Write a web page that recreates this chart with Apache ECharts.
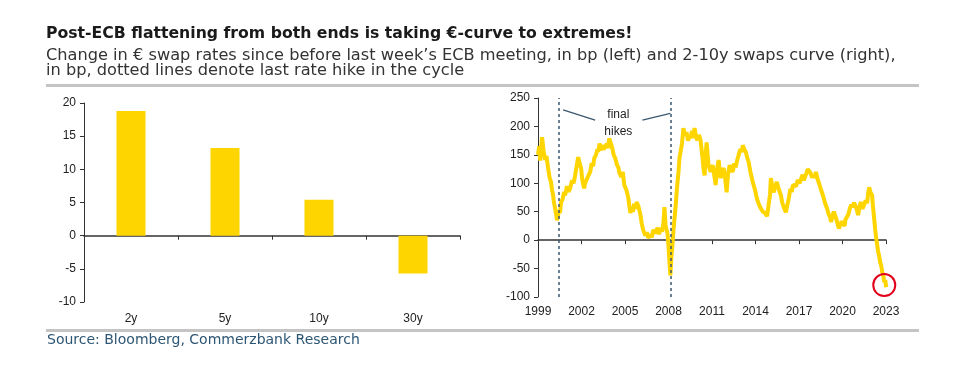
<!DOCTYPE html>
<html>
<head>
<meta charset="utf-8">
<script src="https://cdn.jsdelivr.net/npm/echarts@6/dist/echarts.min.js"></script>
<style>
  html, body { margin: 0; padding: 0; background: #fff; }
  #chart { width: 954px; height: 377px; }
</style>
</head>
<body>
<div id="chart"></div>
<script>
// left panel: change in EUR swap rates since before the ECB meeting, bp
const tenors = ['2y', '5y', '10y', '30y'];
const swapChange = [18.8, 13.2, 5.4, -5.7];

// right panel: 2-10y swaps curve, bp
const curveYears = [
  1999.00, 1999.08, 1999.15, 1999.28, 1999.38, 1999.48, 1999.58, 1999.69, 1999.80, 1999.90,
  1999.97, 2000.04, 2000.10, 2000.18, 2000.25, 2000.31, 2000.38, 2000.45, 2000.52, 2000.59,
  2000.70, 2000.80, 2000.87, 2001.00, 2001.10, 2001.21, 2001.35, 2001.45, 2001.56, 2001.65,
  2001.77, 2001.85, 2001.91, 2001.98, 2002.04, 2002.10, 2002.18, 2002.25, 2002.32, 2002.45,
  2002.60, 2002.70, 2002.80, 2002.88, 2003.00, 2003.10, 2003.15, 2003.25, 2003.35, 2003.43,
  2003.52, 2003.64, 2003.75, 2003.85, 2003.91, 2004.00, 2004.12, 2004.22, 2004.33, 2004.45,
  2004.54, 2004.62, 2004.74, 2004.85, 2004.95, 2005.10, 2005.23, 2005.30, 2005.37, 2005.45,
  2005.55, 2005.62, 2005.71, 2005.80, 2005.92, 2006.06, 2006.15, 2006.25, 2006.40, 2006.50,
  2006.60, 2006.75, 2006.85, 2006.95, 2007.10, 2007.25, 2007.35, 2007.44, 2007.55, 2007.65,
  2007.72, 2007.80, 2007.93, 2008.00, 2008.07, 2008.13, 2008.20, 2008.27, 2008.35, 2008.48,
  2008.58, 2008.69, 2008.76, 2008.83, 2008.93, 2009.03, 2009.12, 2009.24, 2009.35, 2009.45,
  2009.52, 2009.62, 2009.70, 2009.80, 2009.90, 2010.00, 2010.10, 2010.21, 2010.28, 2010.35,
  2010.42, 2010.49, 2010.56, 2010.63, 2010.70, 2010.76, 2010.90, 2011.04, 2011.15, 2011.25,
  2011.35, 2011.46, 2011.53, 2011.60, 2011.70, 2011.80, 2011.90, 2012.01, 2012.10, 2012.22,
  2012.32, 2012.43, 2012.53, 2012.63, 2012.73, 2012.84, 2012.95, 2013.05, 2013.12, 2013.22,
  2013.33, 2013.43, 2013.53, 2013.65, 2013.81, 2013.95, 2014.09, 2014.20, 2014.36, 2014.50,
  2014.65, 2014.80, 2014.92, 2015.00, 2015.06, 2015.15, 2015.26, 2015.35, 2015.47, 2015.60,
  2015.75, 2015.85, 2015.95, 2016.09, 2016.20, 2016.30, 2016.40, 2016.50, 2016.58, 2016.70,
  2016.80, 2016.92, 2017.03, 2017.13, 2017.25, 2017.33, 2017.41, 2017.52, 2017.60, 2017.69,
  2017.80, 2017.90, 2017.96, 2018.07, 2018.17, 2018.27, 2018.38, 2018.50, 2018.65, 2018.80,
  2018.93, 2019.05, 2019.15, 2019.21, 2019.30, 2019.40, 2019.48, 2019.60, 2019.70, 2019.76,
  2019.85, 2019.95, 2020.04, 2020.15, 2020.20, 2020.31, 2020.40, 2020.50, 2020.59, 2020.70,
  2020.80, 2020.87, 2020.97, 2021.08, 2021.18, 2021.28, 2021.38, 2021.49, 2021.60, 2021.70,
  2021.78, 2021.84, 2021.92, 2022.04, 2022.10, 2022.18, 2022.25, 2022.32, 2022.40, 2022.46,
  2022.53, 2022.60, 2022.67, 2022.74, 2022.81, 2022.88, 2022.95, 2023.01
];
const curveBp = [
  150, 165, 140, 181, 158, 141, 148, 128, 110, 102,
  88, 79, 66, 56, 45, 35, 42, 53, 48, 67,
  72, 85, 79, 95, 85, 91, 105, 100, 114, 128,
  146, 138, 141, 125, 109, 100, 91, 100, 97, 112,
  120, 135, 130, 144, 150, 160, 155, 170, 158, 167,
  160, 164, 170, 162, 179, 172, 162, 150, 144, 132,
  128, 118, 111, 120, 97, 88, 74, 60, 48, 55,
  50, 64, 55, 67, 60, 45, 30, 18, 8, 14,
  4, 10, 5, 18, 12, 22, 10, 21, 15, 30,
  58, 25, 12, -10, -40, -62, -30, -9, 20, 56,
  90, 120, 145, 155, 170, 197, 185, 190, 175, 185,
  179, 192, 180, 197, 180, 176, 185, 176, 160, 144,
  125, 114, 150, 172, 150, 132, 120, 132, 115, 97,
  125, 141, 120, 109, 120, 127, 110, 84, 115, 132,
  125, 120, 135, 128, 140, 150, 160, 155, 167, 160,
  155, 145, 137, 120, 102, 90, 74, 65, 56, 50,
  48, 42, 39, 80, 109, 95, 84, 95, 102, 90,
  79, 65, 58, 49, 62, 74, 90, 85, 97, 100,
  95, 106, 100, 102, 115, 105, 111, 118, 125, 128,
  118, 110, 114, 110, 120, 108, 100, 90, 79, 65,
  56, 45, 40, 32, 42, 50, 47, 35, 25, 21,
  27, 33, 30, 25, 36, 35, 45, 55, 62, 58,
  66, 67, 55, 44, 60, 67, 55, 62, 70, 65,
  85, 93, 85, 79, 60, 39, 20, 4, -10, -21,
  -28, -39, -45, -56, -62, -74, -70, -83
];
const finalHikes = [2000.4, 2008.13];

const YELLOW = '#ffd500';
const AXIS = '#333333';
const NOTE = '#3b5870';

const chart = echarts.init(document.getElementById('chart'));

const labelFont = { fontFamily: 'Liberation Sans, Arial, sans-serif', fontSize: 12, color: '#222' };

const option = {
  animation: false,
  title: [
    {
      text: 'Post-ECB flattening from both ends is taking €-curve to extremes!',
      left: 41, top: 21,
      textStyle: { fontFamily: 'DejaVu Sans', fontWeight: 'bold', fontSize: 15.7, color: '#1a1a1a' }
    },
    {
      text: 'Change in € swap rates since before last week\u2019s ECB meeting, in bp (left) and 2-10y swaps curve (right),\nin bp, dotted lines denote last rate hike in the cycle',
      left: 41, top: 43.5,
      textStyle: { fontFamily: 'DejaVu Sans', fontWeight: 'normal', fontSize: 16.2, lineHeight: 15, color: '#333' }
    },
    {
      text: 'Source: Bloomberg, Commerzbank Research',
      left: 42, top: 328,
      textStyle: { fontFamily: 'DejaVu Sans', fontWeight: 'normal', fontSize: 14, color: '#2d5674' }
    }
  ],
  graphic: [
    { type: 'rect', shape: { x: 46, y: 84, width: 873, height: 3 }, style: { fill: '#c4c4c4' } },
    { type: 'rect', shape: { x: 46, y: 329, width: 873, height: 3 }, style: { fill: '#c4c4c4' } }
  ],
  grid: [
    { left: 84, top: 103, width: 376, height: 199 },
    { left: 538, top: 98, width: 348, height: 199 }
  ],
  xAxis: [
    {
      gridIndex: 0, type: 'category', data: tenors,
      axisLine: { onZero: true, lineStyle: { color: AXIS, width: 1.5 } },
      axisTick: { show: true, length: 4, inside: false, lineStyle: { color: AXIS } },
      axisLabel: { show: false }
    },
    {
      gridIndex: 0, type: 'category', data: tenors, position: 'bottom',
      axisLine: { show: false, onZero: false }, axisTick: { show: false },
      axisLabel: Object.assign({ margin: 11 }, labelFont)
    },
    {
      gridIndex: 1, type: 'value', min: 1999, max: 2023, interval: 3,
      axisLine: { onZero: true, lineStyle: { color: AXIS, width: 1.5 } },
      axisTick: { show: true, length: 4, lineStyle: { color: AXIS } },
      axisLabel: { show: false }, splitLine: { show: false }
    },
    {
      gridIndex: 1, type: 'value', min: 1999, max: 2023, interval: 3, position: 'bottom',
      axisLine: { show: false, onZero: false }, axisTick: { show: false },
      axisLabel: Object.assign({ margin: 9, formatter: v => String(v) }, labelFont),
      splitLine: { show: false }
    }
  ],
  yAxis: [
    {
      gridIndex: 0, type: 'value', min: -10, max: 20, interval: 5,
      axisLine: { show: true, lineStyle: { color: AXIS } },
      axisTick: { show: true, length: 4, lineStyle: { color: AXIS } },
      axisLabel: Object.assign({ margin: 8 }, labelFont),
      splitLine: { show: false }
    },
    {
      gridIndex: 1, type: 'value', min: -100, max: 250, interval: 50,
      axisLine: { show: true, lineStyle: { color: AXIS } },
      axisTick: { show: true, length: 4, lineStyle: { color: AXIS } },
      axisLabel: Object.assign({ margin: 8 }, labelFont),
      splitLine: { show: false }
    }
  ],
  series: [
    {
      type: 'bar', xAxisIndex: 0, yAxisIndex: 0,
      data: swapChange, barWidth: 29,
      itemStyle: { color: YELLOW }
    },
    {
      type: 'line', xAxisIndex: 2, yAxisIndex: 1,
      data: curveYears.map((y, i) => [y, curveBp[i]]),
      showSymbol: false, symbol: 'none',
      lineStyle: { color: YELLOW, width: 4 },
      markLine: {
        silent: true, symbol: 'none', label: { show: false },
        data: [
          ...finalHikes.map(x => ({ xAxis: x, lineStyle: { type: [3, 3], color: NOTE, width: 1.5 } })),
          [{ coord: [2000.73, 229] }, { coord: [2002.94, 211], lineStyle: { type: 'solid', color: NOTE, width: 1.3 } }],
          [{ coord: [2006.2, 211] }, { coord: [2008.13, 223], lineStyle: { type: 'solid', color: NOTE, width: 1.3 } }]
        ]
      },
      markPoint: {
        silent: true,
        data: [
          {
            coord: [2022.88, -79], symbol: 'circle', symbolSize: 22,
            itemStyle: { color: 'rgba(0,0,0,0)', borderColor: '#e3001b', borderWidth: 2 },
            label: { show: false }
          },
          {
            coord: [2004.54, 205], symbol: 'circle', symbolSize: 0,
            label: {
              show: true, position: 'inside', formatter: 'final\nhikes',
              fontFamily: 'Liberation Sans, Arial, sans-serif', fontSize: 12, lineHeight: 17, color: '#222'
            }
          }
        ]
      }
    }
  ]
};

chart.setOption(option);
</script>
</body>
</html>
